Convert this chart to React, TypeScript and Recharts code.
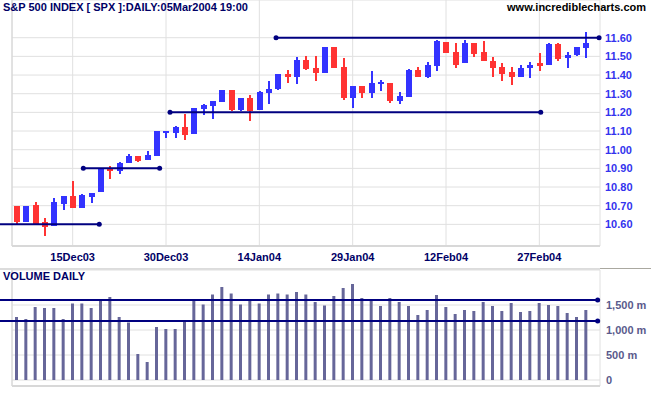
import {
  ComposedChart,
  Bar,
  XAxis,
  YAxis,
  CartesianGrid,
  ReferenceLine,
  ReferenceDot,
} from "recharts";

const FONT = '"Liberation Sans", Arial, sans-serif';

// trading days, 05Dec03 .. 05Mar04
const dates = [
  "05Dec03", "08Dec03", "09Dec03", "10Dec03", "11Dec03", "12Dec03", "15Dec03", "16Dec03",
  "17Dec03", "18Dec03", "19Dec03", "22Dec03", "23Dec03", "24Dec03", "26Dec03", "29Dec03",
  "30Dec03", "31Dec03", "02Jan04", "05Jan04", "06Jan04", "07Jan04", "08Jan04", "09Jan04",
  "12Jan04", "13Jan04", "14Jan04", "15Jan04", "16Jan04", "20Jan04", "21Jan04", "22Jan04",
  "23Jan04", "26Jan04", "27Jan04", "28Jan04", "29Jan04", "30Jan04", "02Feb04", "03Feb04",
  "04Feb04", "05Feb04", "06Feb04", "09Feb04", "10Feb04", "11Feb04", "12Feb04", "13Feb04",
  "17Feb04", "18Feb04", "19Feb04", "20Feb04", "23Feb04", "24Feb04", "25Feb04", "26Feb04",
  "27Feb04", "01Mar04", "02Mar04", "03Mar04", "04Mar04", "05Mar04",
];

const opens = [
  10.699, 10.614, 10.703, 10.613, 10.591, 10.71, 10.753, 10.685, 10.748, 10.771, 10.899,
  10.885, 10.928, 10.966, 10.944, 10.966, 11.09, 11.092, 11.124, 11.085, 11.22, 11.236,
  11.256, 11.321, 11.213, 11.276, 11.214, 11.303, 11.323, 11.407, 11.387, 11.48, 11.44,
  11.411, 11.55, 11.442, 11.275, 11.34, 11.304, 11.35, 11.356, 11.259, 11.282, 11.429,
  11.388, 11.451, 11.578, 11.525, 11.462, 11.573, 11.525, 11.476, 11.444, 11.417, 11.392,
  11.435, 11.465, 11.453, 11.568, 11.489, 11.505, 11.543,
];
const highs = [
  10.7, 10.7, 10.721, 10.634, 10.742, 10.753, 10.834, 10.764, 10.77, 10.9, 10.915, 10.932,
  10.977, 10.966, 10.991, 11.1, 11.1, 11.125, 11.191, 11.225, 11.243, 11.262, 11.32, 11.321,
  11.278, 11.294, 11.312, 11.369, 11.405, 11.429, 11.494, 11.501, 11.501, 11.55, 11.55,
  11.49, 11.34, 11.34, 11.42, 11.372, 11.356, 11.307, 11.43, 11.442, 11.469, 11.587, 11.578,
  11.569, 11.589, 11.573, 11.584, 11.498, 11.465, 11.444, 11.453, 11.471, 11.519, 11.573,
  11.57, 11.525, 11.552, 11.632,
];
const lows = [
  10.603, 10.614, 10.596, 10.537, 10.591, 10.677, 10.685, 10.685, 10.717, 10.771, 10.845,
  10.868, 10.928, 10.935, 10.944, 10.966, 11.063, 11.063, 11.05, 11.085, 11.186, 11.164,
  11.254, 11.208, 11.205, 11.155, 11.214, 11.245, 11.322, 11.355, 11.35, 11.427, 11.368,
  11.41, 11.438, 11.264, 11.223, 11.277, 11.277, 11.315, 11.25, 11.245, 11.28, 11.388,
  11.385, 11.422, 11.516, 11.435, 11.462, 11.498, 11.473, 11.39, 11.37, 11.349, 11.392,
  11.386, 11.42, 11.453, 11.473, 11.44, 11.5, 11.489,
];
const closes = [
  10.614, 10.699, 10.6, 10.587, 10.719, 10.751, 10.685, 10.757, 10.769, 10.899, 10.885,
  10.93, 10.966, 10.937, 10.969, 11.099, 11.099, 11.124, 11.081, 11.223, 11.241, 11.261,
  11.319, 11.213, 11.276, 11.207, 11.31, 11.326, 11.404, 11.389, 11.479, 11.431, 11.411,
  11.55, 11.438, 11.275, 11.34, 11.304, 11.356, 11.361, 11.259, 11.289, 11.426, 11.39,
  11.456, 11.582, 11.516, 11.456, 11.573, 11.514, 11.473, 11.435, 11.408, 11.388, 11.44,
  11.453, 11.446, 11.568, 11.487, 11.51, 11.55, 11.573,
];

// volume, millions
const volumes = [
  1260, 1220, 1460, 1440, 1440, 1220, 1530, 1530, 1440, 1590, 1660, 1260, 1150, 520, 360,
  1060, 1020, 1020, 1170, 1590, 1510, 1710, 1860, 1730, 1510, 1610, 1530, 1710, 1730, 1710,
  1760, 1710, 1560, 1490, 1680, 1840, 1920, 1640, 1590, 1480, 1640, 1560, 1480, 1300, 1400,
  1700, 1460, 1320, 1400, 1380, 1560, 1480, 1380, 1540, 1360, 1380, 1540, 1500, 1480, 1340,
  1260, 1400,
];

const dateTicks = ["15Dec03", "30Dec03", "14Jan04", "29Jan04", "12Feb04", "27Feb04"];
const priceTicks = [10.6, 10.7, 10.8, 10.9, 11.0, 11.1, 11.2, 11.3, 11.4, 11.5, 11.6];
const volumeTicks = [0, 500, 1000, 1500];

// support / resistance lines, x in trading-day index
const priceLines = [
  { from: -2, to: 8.85, level: 10.6, startDot: false },
  { from: 7.14, to: 15.32, level: 10.9, startDot: true },
  { from: 16.43, to: 56.15, level: 11.2, startDot: true },
  { from: 27.79, to: 62.4, level: 11.6, startDot: true },
];
const volumeLines = [
  { from: -2, to: 62.25, level: 1600 },
  { from: -2, to: 62.25, level: 1180 },
];

const rows = dates.map((date, i) => ({
  date,
  idx: i,
  open: opens[i],
  high: highs[i],
  low: lows[i],
  close: closes[i],
  range: [lows[i], highs[i]],
  volume: volumes[i],
}));

const UP = "#3333ff";
const DOWN = "#ff3333";
const NAVY = "#000080";

const Candle = (props: any) => {
  const { x, y, width, height, payload } = props;
  if (!payload) return null;
  const top = Math.min(y, y + height);
  const h = Math.abs(height);
  const { open, close, high, low } = payload;
  const ppu = h / (high - low || 1e-9);
  const bodyTop = top + (high - Math.max(open, close)) * ppu;
  const bodyH = Math.max(Math.abs(open - close) * ppu, 2);
  const cx = x + width / 2;
  const color = close >= open ? UP : DOWN;
  return (
    <g>
      <rect x={cx - 1} y={top} width={2} height={Math.max(h, 1)} fill={color} shapeRendering="crispEdges" />
      <rect x={x} y={bodyTop} width={width} height={bodyH} fill={color} shapeRendering="crispEdges" />
    </g>
  );
};

const axisTick = (fill: string) => ({ fill, fontSize: 11, fontWeight: 700, fontFamily: FONT });

// plain svg text so "1,500 m" is not wrapped to the axis width
const VolumeTick = (props: any) => {
  const { x, y, payload } = props;
  const v = payload.value as number;
  return (
    <text x={x} y={y} dy="0.355em" textAnchor="start" fill="#5a5a8c" fontSize={11} fontWeight={700} fontFamily={FONT}>
      {v === 0 ? "0" : v.toLocaleString("en-US") + " m"}
    </text>
  );
};

export default function App() {
  return (
    <div
      style={{
        position: "absolute",
        left: 0,
        top: 0,
        width: 651,
        height: 395,
        background: "#fff",
        fontFamily: FONT,
        overflow: "hidden",
      }}
    >
      <div style={{ position: "absolute", left: 0, top: 0 }}>
        <ComposedChart width={651} height={262} data={rows} margin={{ top: 0, right: 0, left: 12, bottom: 0 }}>
          <CartesianGrid stroke="#e0e0e0" />
          <XAxis
            dataKey="date"
            ticks={dateTicks}
            interval={0}
            padding={{ left: 0, right: 588 / 63 }}
            height={16}
            tickSize={5}
            tickMargin={2}
            tickLine={false}
            axisLine={{ stroke: "#d8d8d8", strokeWidth: 2 }}
            tick={axisTick("#000066")}
          />
          <XAxis xAxisId="n" type="number" dataKey="idx" domain={[-0.5, 62.5]} allowDataOverflow hide />
          <YAxis
            orientation="right"
            domain={[10.484, 11.802]}
            allowDataOverflow
            ticks={priceTicks}
            interval={0}
            width={51}
            tickSize={3}
            tickMargin={2}
            tickLine={false}
            axisLine={false}
            tick={axisTick("#3333ee")}
            tickFormatter={(v: number) => v.toFixed(2)}
          />
          <ReferenceLine xAxisId="n" x={-0.5} stroke="#d4d4d4" />
          <Bar dataKey="range" barSize={6} shape={<Candle />} isAnimationActive={false} />
          {priceLines.map((l, i) => (
            <ReferenceLine
              key={"pl" + i}
              xAxisId="n"
              segment={[
                { x: l.from, y: l.level },
                { x: l.to, y: l.level },
              ]}
              stroke={NAVY}
              strokeWidth={2}
              ifOverflow="visible"
            />
          ))}
          {priceLines.map((l, i) => (
            <ReferenceDot key={"pe" + i} xAxisId="n" x={l.to} y={l.level} r={2.5} fill={NAVY} stroke="none" ifOverflow="visible" />
          ))}
          {priceLines
            .filter((l) => l.startDot)
            .map((l, i) => (
              <ReferenceDot key={"ps" + i} xAxisId="n" x={l.from} y={l.level} r={2.5} fill={NAVY} stroke="none" ifOverflow="visible" />
            ))}
        </ComposedChart>
      </div>

      <div style={{ position: "absolute", left: 0, top: 268, width: 600, height: 2, background: "#dcdcdc" }} />
      <div style={{ position: "absolute", left: 600, top: 268, width: 51, height: 1, background: "#aaa8a0" }} />

      <div style={{ position: "absolute", left: 0, top: 262 }}>
        <ComposedChart width={651} height={133} data={rows} margin={{ top: 8, right: 0, left: 12, bottom: 0 }}>
          <CartesianGrid stroke="#e0e0e0" />
          <XAxis
            dataKey="date"
            ticks={dateTicks}
            interval={0}
            padding={{ left: 0, right: 588 / 63 }}
            height={9}
            tick={false}
            tickLine={false}
            axisLine={{ stroke: "#d8d8d8", strokeWidth: 2 }}
          />
          <XAxis xAxisId="n" type="number" dataKey="idx" domain={[-0.5, 62.5]} allowDataOverflow hide />
          <YAxis
            orientation="right"
            domain={[-120, 2200]}
            allowDataOverflow
            ticks={volumeTicks}
            interval={0}
            width={51}
            tickSize={4}
            tickMargin={2}
            tickLine={false}
            axisLine={false}
            tick={<VolumeTick />}
          />
          <ReferenceLine xAxisId="n" x={-0.5} stroke="#d4d4d4" />
          <Bar dataKey="volume" barSize={3} fill="#666699" isAnimationActive={false} />
          {volumeLines.map((l, i) => (
            <ReferenceLine
              key={"vl" + i}
              xAxisId="n"
              segment={[
                { x: l.from, y: l.level },
                { x: l.to, y: l.level },
              ]}
              stroke={NAVY}
              strokeWidth={2}
              ifOverflow="visible"
            />
          ))}
          {volumeLines.map((l, i) => (
            <ReferenceDot key={"ve" + i} xAxisId="n" x={l.to} y={l.level} r={2.5} fill={NAVY} stroke="none" ifOverflow="visible" />
          ))}
        </ComposedChart>
      </div>

      <div style={{ position: "absolute", left: 3, top: 2, fontSize: 11, lineHeight: "11px", fontWeight: 700, color: "#000066", whiteSpace: "nowrap" }}>
        S&amp;P 500 INDEX [ SPX ]:DAILY:05Mar2004 19:00
      </div>
      <div style={{ position: "absolute", right: 5, top: 2, fontSize: 11, lineHeight: "11px", fontWeight: 700, color: "#000", whiteSpace: "nowrap" }}>
        www.incrediblecharts.com
      </div>
      <div style={{ position: "absolute", left: 3, top: 271, fontSize: 11, lineHeight: "11px", fontWeight: 700, color: "#000066", whiteSpace: "nowrap" }}>
        VOLUME DAILY
      </div>
    </div>
  );
}
